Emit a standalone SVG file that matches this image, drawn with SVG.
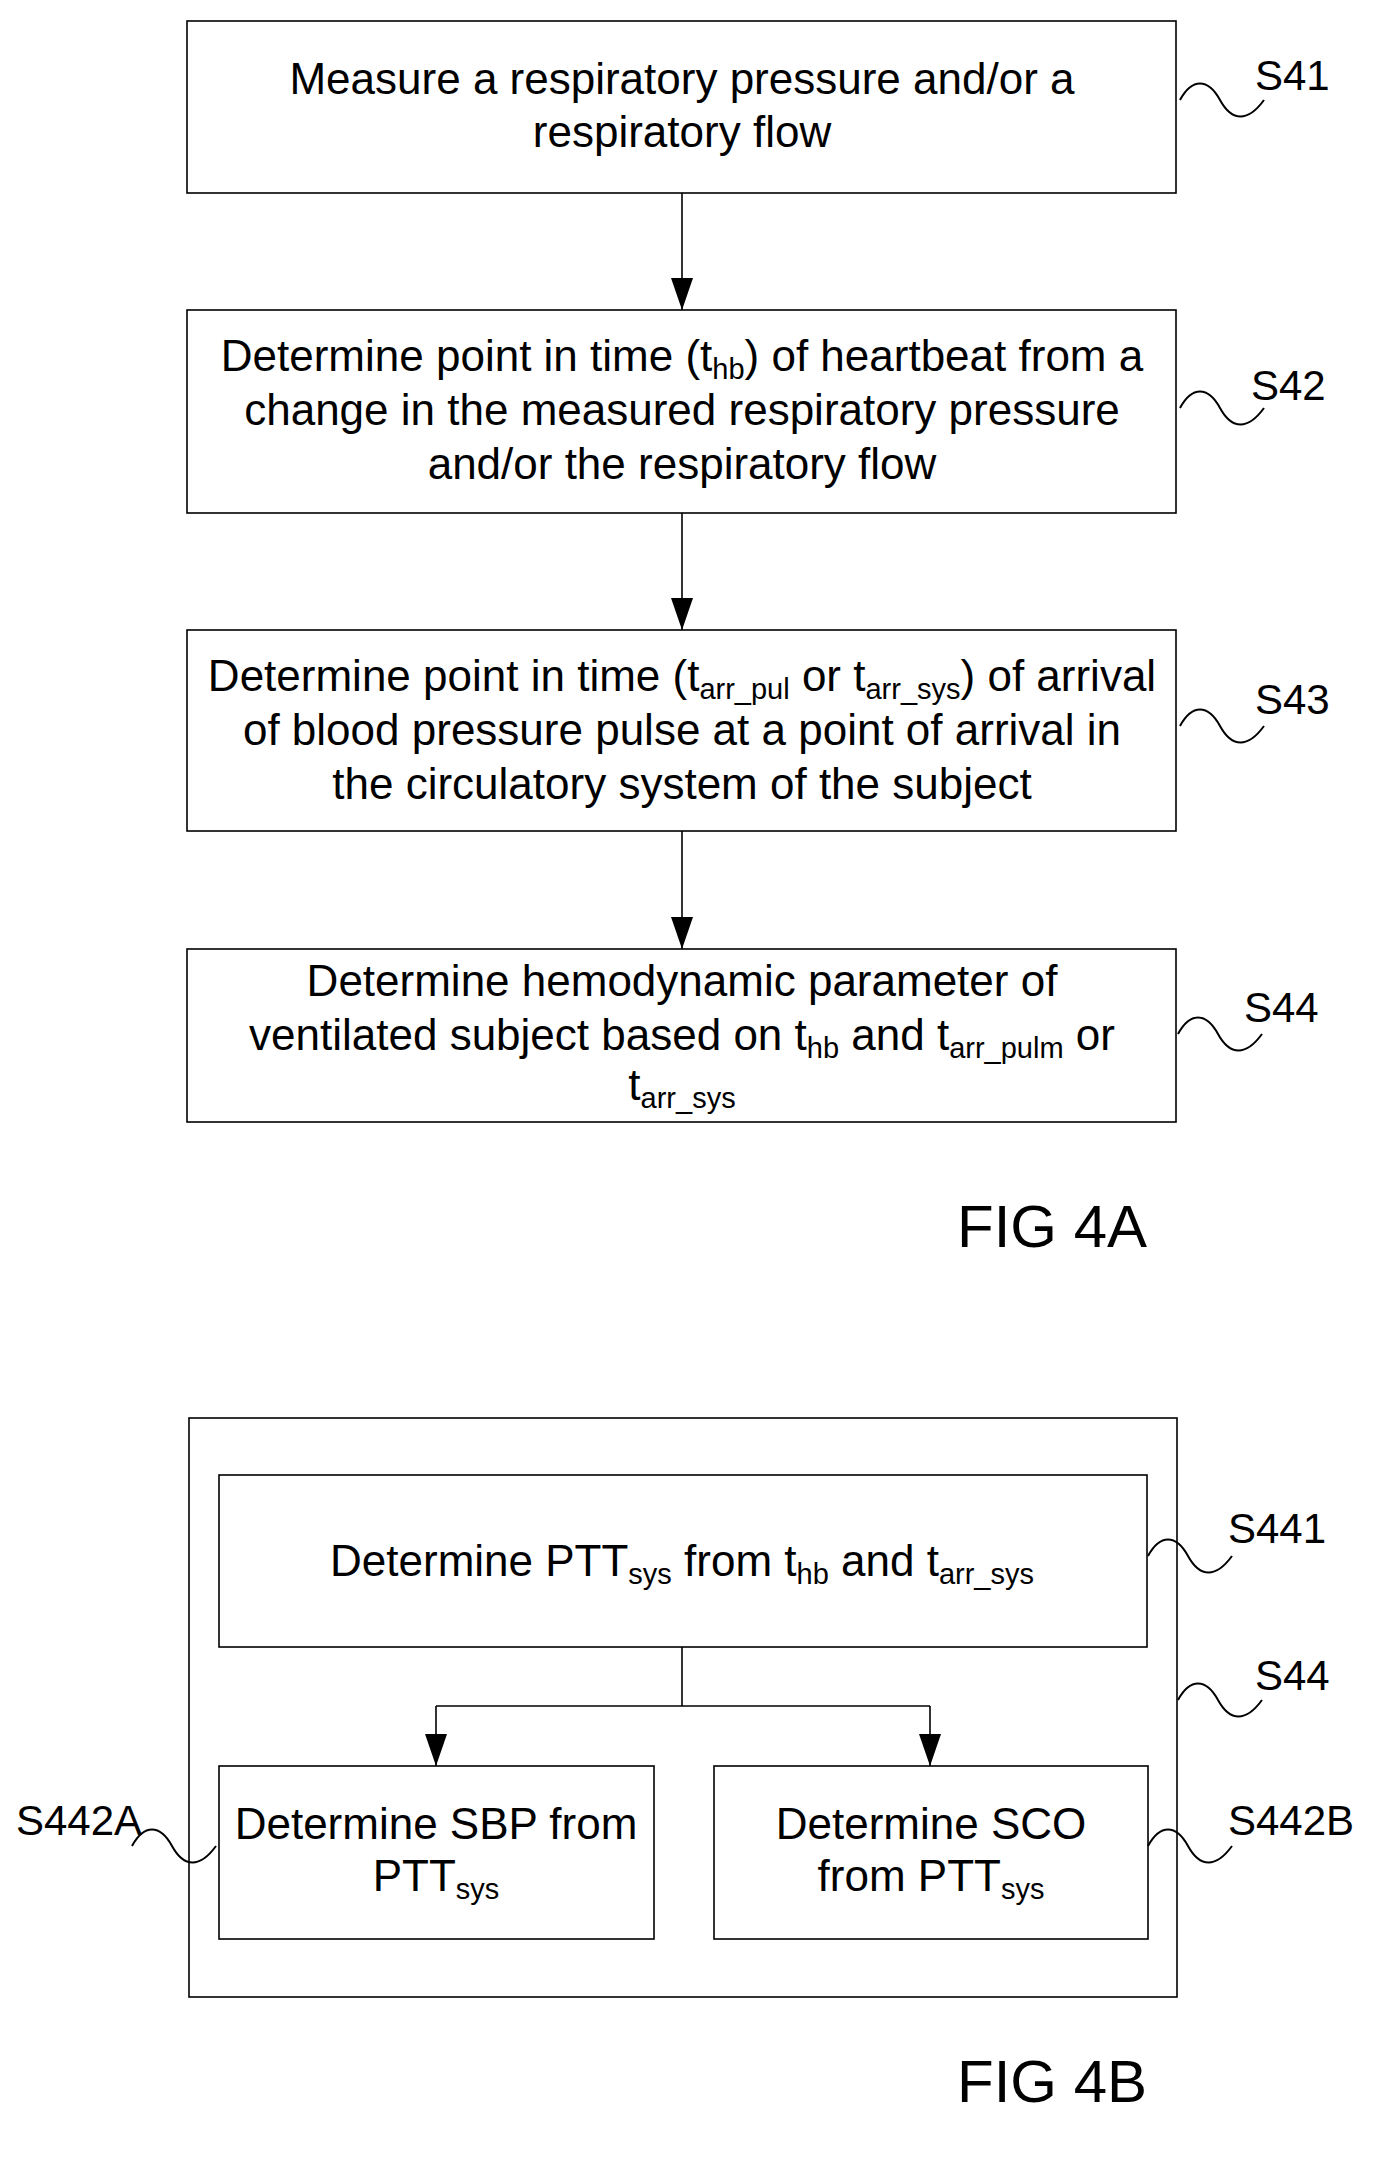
<svg xmlns="http://www.w3.org/2000/svg" xmlns:xlink="http://www.w3.org/1999/xlink" width="1400" height="2176" viewBox="0 0 1400 2176">
<style>
.b{fill:#fff;stroke:#000;stroke-width:1.6}
.t{font-family:"Liberation Sans",Arial,sans-serif;font-size:44px;text-anchor:middle;fill:#000}
.l{font-family:"Liberation Sans",Arial,sans-serif;font-size:42px;fill:#000}
.f{font-family:"Liberation Sans",Arial,sans-serif;font-size:60px;fill:#000}
.s{font-size:29px}
.c{fill:none;stroke:#000;stroke-width:1.6}
.w{fill:none;stroke:#000;stroke-width:2}
</style>
<defs>
<marker id="a" markerWidth="32" markerHeight="22" refX="32" refY="11" orient="auto" markerUnits="userSpaceOnUse" viewBox="0 0 32 22"><path d="M0,0 L32,11 L0,22 z" fill="#000"/></marker>
<path id="sq" d="M0,0 c12,-22 28,-22 40,0 s28,22 44,0"/>
</defs>
<g id="S41"><rect class="b" x="187" y="21" width="989" height="172"/>
<text class="t" x="682" y="94">Measure a respiratory pressure and/or a</text>
<text class="t" x="682" y="147">respiratory flow</text>
<use href="#sq" class="w" x="1180" y="100"/><text class="l" x="1255" y="90">S41</text></g>
<g id="S42"><rect class="b" x="187" y="310" width="989" height="203"/>
<text class="t" x="682" y="371">Determine point in time (t<tspan class="s" dy="8">hb</tspan><tspan dy="-8">) of heartbeat from a</tspan></text>
<text class="t" x="682" y="425">change in the measured respiratory pressure</text>
<text class="t" x="682" y="479">and/or the respiratory flow</text>
<use href="#sq" class="w" x="1180" y="408"/><text class="l" x="1251" y="400">S42</text></g>
<g id="S43"><rect class="b" x="187" y="630" width="989" height="201"/>
<text class="t" x="682" y="691">Determine point in time (t<tspan class="s" dy="8">arr_pul</tspan><tspan dy="-8"> or t</tspan><tspan class="s" dy="8">arr_sys</tspan><tspan dy="-8">) of arrival</tspan></text>
<text class="t" x="682" y="745">of blood pressure pulse at a point of arrival in</text>
<text class="t" x="682" y="799">the circulatory system of the subject</text>
<use href="#sq" class="w" x="1180" y="726"/><text class="l" x="1255" y="714">S43</text></g>
<g id="S44"><rect class="b" x="187" y="949" width="989" height="173"/>
<text class="t" x="682" y="996">Determine hemodynamic parameter of</text>
<text class="t" x="682" y="1050">ventilated subject based on t<tspan class="s" dy="8">hb</tspan><tspan dy="-8"> and t</tspan><tspan class="s" dy="8">arr_pulm</tspan><tspan dy="-8"> or</tspan></text>
<text class="t" x="682" y="1100">t<tspan class="s" dy="8">arr_sys</tspan></text>
<use href="#sq" class="w" x="1178" y="1034"/><text class="l" x="1244" y="1022">S44</text></g>
<text class="f" x="957" y="1247">FIG 4A</text>
<g id="S44B"><rect class="b" x="189" y="1418" width="988" height="579"/>
<use href="#sq" class="w" x="1178" y="1700"/><text class="l" x="1255" y="1690">S44</text></g>
<g id="S441"><rect class="b" x="219" y="1475" width="928" height="172"/>
<text class="t" x="682" y="1576">Determine PTT<tspan class="s" dy="8">sys</tspan><tspan dy="-8"> from t</tspan><tspan class="s" dy="8">hb</tspan><tspan dy="-8"> and t</tspan><tspan class="s" dy="8">arr_sys</tspan></text>
<use href="#sq" class="w" x="1148" y="1556"/><text class="l" x="1228" y="1543">S441</text></g>
<g id="S442A"><rect class="b" x="219" y="1766" width="435" height="173"/>
<text class="t" x="436" y="1839">Determine SBP from</text>
<text class="t" x="436" y="1891">PTT<tspan class="s" dy="8">sys</tspan></text>
<use href="#sq" class="w" x="132" y="1846"/><text class="l" x="16" y="1835">S442A</text></g>
<g id="S442B"><rect class="b" x="714" y="1766" width="434" height="173"/>
<text class="t" x="931" y="1839">Determine SCO</text>
<text class="t" x="931" y="1891">from PTT<tspan class="s" dy="8">sys</tspan></text>
<use href="#sq" class="w" x="1148" y="1846"/><text class="l" x="1228" y="1835">S442B</text></g>
<text class="f" x="957" y="2102">FIG 4B</text>
<g id="connectors">
<line class="c" x1="682" y1="193" x2="682" y2="310" marker-end="url(#a)"/>
<line class="c" x1="682" y1="513" x2="682" y2="630" marker-end="url(#a)"/>
<line class="c" x1="682" y1="831" x2="682" y2="949" marker-end="url(#a)"/>
<polyline class="c" points="682,1647 682,1706"/>
<polyline class="c" points="436,1706 930,1706"/>
<line class="c" x1="436" y1="1706" x2="436" y2="1766" marker-end="url(#a)"/>
<line class="c" x1="930" y1="1706" x2="930" y2="1766" marker-end="url(#a)"/>
</g>
</svg>
